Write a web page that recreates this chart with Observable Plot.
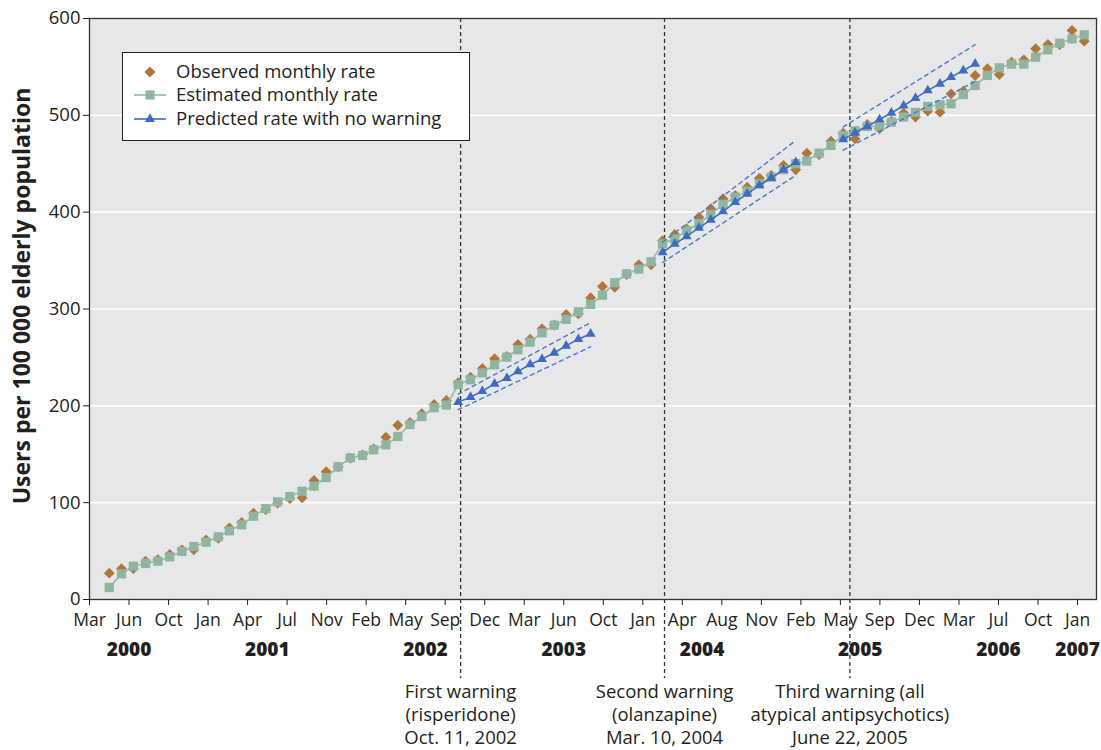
<!DOCTYPE html>
<html>
<head>
<meta charset="utf-8">
<script src="https://cdn.jsdelivr.net/npm/d3@7"></script>
<script src="https://cdn.jsdelivr.net/npm/@observablehq/plot@0.6"></script>
<style>
  body { margin: 0; background: #fff; }
  #wrap { position: relative; width: 1101px; height: 750px; font-family: "Open Sans", sans-serif; }
  #legend { position: absolute; left: 122px; top: 52px; }
</style>
</head>
<body>
<div id="wrap"></div>
<script>
// ---------- data ----------
const monthTickLabels = ["Mar","Jun","Oct","Jan","Apr","Jul","Nov","Feb","May","Sep","Dec","Mar","Jun","Oct","Jan","Apr","Aug","Nov","Feb","May","Sep","Dec","Mar","Jul","Oct","Jan"];
const monthTickYears  = [2000,2000,2000,2001,2001,2001,2001,2002,2002,2002,2002,2003,2003,2003,2004,2004,2004,2004,2005,2005,2005,2005,2006,2006,2006,2007];
const yTicks = [0, 100, 200, 300, 400, 500, 600];

// monthly series, May 2000 .. Feb 2007
const observed = [27.2, 31.7, 32.0, 39.6, 41.0, 46.5, 51.3, 51.3, 61.6, 63.3,
  74.0, 79.5, 89.1, 92.9, 99.5, 104.3, 105.0, 122.9, 132, 137,
  146, 149.4, 155.6, 167.6, 180.0, 182.8, 191.8, 201.4, 205.5, 224.0,
  229.6, 238.5, 248.6, 251, 263.3, 268.8, 279.5, 283.5, 294.3, 295.0,
  311.6, 323.3, 322.5, 335.6, 345.7, 345.7, 370.5, 377.0, 382.8, 394.8,
  403.5, 413.8, 417.2, 425.8, 435.1, 437.9, 448.2, 443.8, 460.9, 459.6,
  473.3, 481.6, 475.8, 490.5, 486.1, 494, 502.3, 498.2, 504.3, 503.3,
  522.2, 525.0, 541.2, 548.1, 542.2, 554.9, 557.3, 568.7, 573.2, 573.2,
  587.6, 576.6];
const estimated = [12.4, 26.5, 34.4, 37.2, 39.6, 44.1, 49.6, 54.7, 59.2, 64.7,
  70.9, 77.1, 86.0, 94.0, 100.9, 106.4, 111.8, 117.0, 126, 137,
  146.3, 148.7, 154.6, 159.7, 168.3, 180.7, 189.0, 198.0, 200.8, 222.0,
  226.9, 234.0, 242.4, 250.3, 257.9, 265.7, 275.4, 283.3, 289.2, 297.1,
  304.7, 314.3, 327.1, 336.4, 341.1, 348.9, 367.3, 372.5, 381.1, 388.0,
  397.6, 408.0, 415.5, 421.7, 429.3, 436.1, 443.8, 450.0, 452.7, 460.9,
  468.9, 479.2, 484, 488.5, 488.5, 493.0, 498.2, 503.0, 509.2, 510.9,
  511.9, 521.5, 530.8, 541.2, 549.1, 552.9, 552.9, 560.0, 567.7, 574.5,
  579.0, 583.2];

// predicted rate with no warning (three segments)
const predictedStartMonths = [29, 46, 61]; // month index in series (Oct 2002, Mar 2004, Jun 2005)
const predicted1 = [203.8, 209, 215.1, 222.7, 228.6, 235.5, 242.7, 248.2, 254.8, 262, 268.8, 274.4];
const predicted2 = [358.4, 367.3, 374.9, 383.9, 392.1, 400.7, 410.3, 419, 427.6, 435.5, 443.8, 451.6];
const predicted3 = [475.1, 482, 488.5, 495.7, 502.6, 509.9, 517.8, 525.7, 532.6, 539.5, 546.3, 553.2];
// confidence band end values (first, last) for each segment
const ciUpper = [[212, 286], [369, 474], [488, 573]];
const ciLower = [[196, 261], [348, 438], [464, 535]];

const warningDates  = ["2002-10-11", "2004-03-10", "2005-06-22"];
const warningLabels = ["First warning\n(risperidone)\nOct. 11, 2002",
                       "Second warning\n(olanzapine)\nMar. 10, 2004",
                       "Third warning (all\natypical antipsychotics)\nJune 22, 2005"];
const seriesNames = ["Observed monthly rate", "Estimated monthly rate", "Predicted rate with no warning"];
const yTitle = "Users per 100 000 elderly population";

// ---------- build ----------
const C = {obs: "#b0773c", est: "#8fb5a0", estLine: "#96baa5", pred: "#3d6cc0", ci: "#4a76c8", bg: "#e6e7e8", ink: "#231f20"};
const month0 = new Date(Date.UTC(2000, 4, 5));
const dateOf = i => d3.utcMonth.offset(month0, i);
const obsData = observed.map((v, i) => ({date: dateOf(i), value: v}));
const estData = estimated.map((v, i) => ({date: dateOf(i), value: v}));
const predSegs = [predicted1, predicted2, predicted3];
const predData = predSegs.flatMap((arr, s) => arr.map((v, j) => ({seg: s, date: dateOf(predictedStartMonths[s] + j), value: v})));
const ciData = predSegs.flatMap((arr, s) => {
  const a = dateOf(predictedStartMonths[s]), b = dateOf(predictedStartMonths[s] + arr.length - 1);
  return [
    {key: "u" + s, date: a, value: ciUpper[s][0]}, {key: "u" + s, date: b, value: ciUpper[s][1]},
    {key: "l" + s, date: a, value: ciLower[s][0]}, {key: "l" + s, date: b, value: ciLower[s][1]}
  ];
});

const tick0 = new Date(Date.UTC(2000, 2, 16));
const tickDates = monthTickLabels.map((_, i) => d3.utcDay.offset(tick0, 100 * i));
const yearData = d3.groups(tickDates.map((d, i) => ({d, y: monthTickYears[i]})), e => e.y)
  .map(([y, arr]) => ({year: String(y), date: new Date(d3.mean(arr, e => +e.d))}));
const warnData = warningDates.map((d, i) => ({date: new Date(d + "T00:00Z"), label: warningLabels[i]}));

const chart = Plot.plot({
  width: 1101, height: 750,
  marginLeft: 89, marginRight: 5, marginTop: 18, marginBottom: 151,
  style: {fontFamily: "Open Sans", fontSize: "17px", color: C.ink, background: "transparent", overflow: "visible"},
  x: {type: "utc", domain: [tick0, d3.utcDay.offset(tick0, 2548)]},
  y: {domain: [0, 600]},
  marks: [
    Plot.frame({fill: C.bg}),
    Plot.gridY({ticks: yTicks.slice(1, -1), stroke: "#fff", strokeOpacity: 1, strokeWidth: 1.6}),
    Plot.ruleX(warnData, {x: "date", stroke: "#333", strokeWidth: 1.3, strokeDasharray: "4,3", insetBottom: -79}),
    Plot.dot(obsData, {x: "date", y: "value", symbol: "diamond2", fill: C.obs, stroke: "none", r: 4.9}),
    Plot.line(estData, {x: "date", y: "value", stroke: C.estLine, strokeWidth: 1.6}),
    Plot.dot(estData, {x: "date", y: "value", symbol: "square", fill: C.est, stroke: "none", r: 5.2}),
    Plot.line(ciData, {x: "date", y: "value", z: "key", stroke: C.ci, strokeWidth: 1.4, strokeDasharray: "4,4"}),
    Plot.line(predData, {x: "date", y: "value", z: "seg", stroke: C.pred, strokeWidth: 1.5}),
    Plot.dot(predData, {x: "date", y: "value", symbol: "triangle", fill: C.pred, stroke: "none", r: 3.7}),
    Plot.frame({stroke: "#333", strokeWidth: 1.3}),
    Plot.axisY({ticks: yTicks, tickSize: 6, tickPadding: 3, label: null, fontSize: 18.5}),
    Plot.axisX({ticks: tickDates, tickFormat: d => monthTickLabels[tickDates.findIndex(t => +t === +d)],
                tickSize: 6, tickPadding: 8, label: null, fontSize: 17.5}),
    Plot.text(yearData, {x: "date", text: "year", frameAnchor: "bottom", lineAnchor: "middle", dy: 50, fontWeight: 800, fontSize: 19}),
    Plot.text(warnData, {x: "date", text: "label", frameAnchor: "bottom", lineAnchor: "middle", dy: 114, lineHeight: 1.25, fontSize: 18.5}),
    Plot.text([yTitle], {frameAnchor: "left", textAnchor: "middle", dx: -67, dy: -13, rotate: -90, fontWeight: "bold", fontSize: 23})
  ]
});
const wrap = document.getElementById("wrap");
wrap.appendChild(chart);

// ---------- legend (overlay inside plot) ----------
const lw = 348, lh = 89;
const leg = d3.create("svg").attr("id", "legend").attr("width", lw).attr("height", lh)
  .style("font-family", "Open Sans").style("font-size", "18.5px");
leg.append("rect").attr("x", 0.5).attr("y", 0.5).attr("width", lw - 1).attr("height", lh - 1)
  .attr("fill", "#fff").attr("stroke", "#222").attr("stroke-width", 1);
const rowsY = [20, 43, 67];
const sx = 28;
rowsY.forEach((ry, i) => {
  const g = leg.append("g").attr("transform", `translate(${sx},${ry})`);
  if (i > 0) g.append("line").attr("x1", -16).attr("x2", 16).attr("stroke", i === 1 ? C.estLine : C.pred).attr("stroke-width", 1.6);
  const sym = [d3.symbolDiamond2, d3.symbolSquare, d3.symbolTriangle][i];
  const size = [77, 85, 43][i];
  g.append("path").attr("d", d3.symbol(sym, size)()).attr("fill", [C.obs, C.est, C.pred][i]);
  leg.append("text").attr("x", 54).attr("y", ry).attr("dy", "0.35em").attr("fill", C.ink).text(seriesNames[i]);
});
wrap.appendChild(leg.node());
</script>
</body>
</html>
